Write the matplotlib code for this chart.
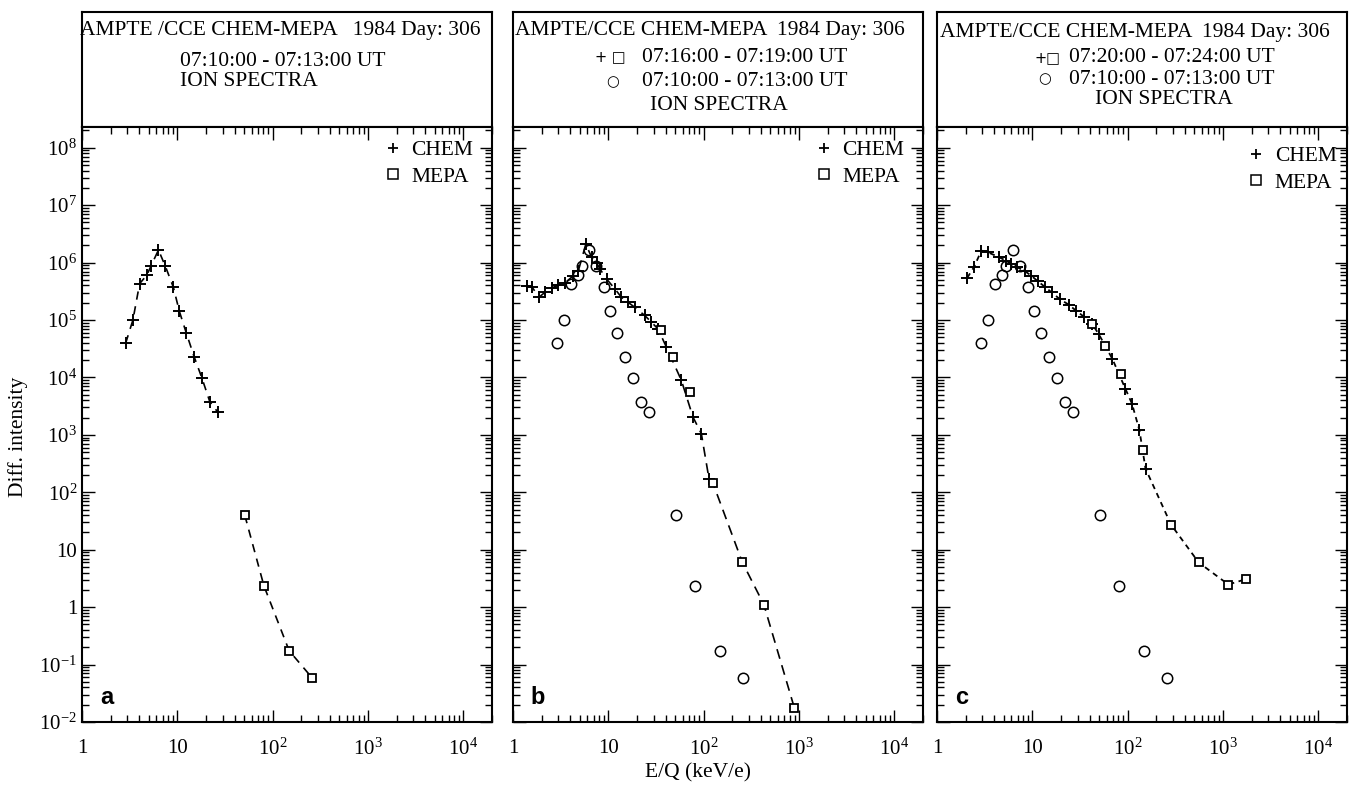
import numpy as np
import matplotlib
matplotlib.use("Agg")
import matplotlib.pyplot as plt
from matplotlib.ticker import LogLocator, FixedLocator, FixedFormatter, NullFormatter
from matplotlib.lines import Line2D

plt.rcParams['font.family'] = ['Liberation Serif', 'DejaVu Sans']
plt.rcParams['mathtext.fontset'] = 'custom'
plt.rcParams['mathtext.rm'] = 'Liberation Serif'
plt.rcParams['mathtext.it'] = 'Liberation Serif:italic'
plt.rcParams['mathtext.bf'] = 'Liberation Serif:bold'

# --- Data (E/Q in keV/e, differential intensity) ---
# panel a, 07:10:00 - 07:13:00 UT (also the circles in b and c)
a_chem_e = [2.87, 3.42, 4.02, 4.8, 5.27, 6.34, 7.5, 9.1, 10.5, 12.4, 15.0, 18.1, 21.9, 26.5]
a_chem_j = [3.95e4, 1.0e5, 4.3e5, 6.1e5, 8.6e5, 1.66e6, 8.6e5, 3.7e5, 1.42e5, 6.0e4,
            2.3e4, 9.8e3, 3.8e3, 2.5e3]
a_mepa_e = [51, 81, 149, 261]
a_mepa_j = [40, 2.35, 0.174, 0.058]

# panel b, 07:16:00 - 07:19:00 UT
b_chem_e = [1.39, 1.59, 1.88, 2.16, 2.54, 2.98, 3.5, 4.28, 4.83, 5.81, 6.67, 7.52, 8.15,
            9.57, 11.7, 13.7, 16.1, 18.9, 24.1, 28.3, 33.2, 40.6, 58.4, 77.3, 94.6, 113.7]
b_chem_j = [3.98e5, 3.7e5, 2.5e5, 3.04e5, 3.63e5, 4.0e5, 4.4e5, 5.9e5, 7.1e5, 2.1e6,
            1.24e6, 1.0e6, 7.8e5, 5.2e5, 3.5e5, 2.5e5, 2.04e5, 1.67e5, 1.2e5, 9.2e4,
            7.0e4, 3.4e4, 8.9e3, 2.04e3, 1.05e3, 173]
b_mepa_e = [35.4, 47.7, 71.3, 125, 254, 428, 897]
b_mepa_j = [6.6e4, 2.25e4, 5.5e3, 145, 6.1, 1.11, 0.0173]

# panel c, 07:20:00 - 07:24:00 UT
c_chem_e = [2.07, 2.44, 2.92, 3.43, 4.49, 5.29, 5.98, 6.92, 8.28, 9.75, 11.5, 13.5, 15.9,
            19.5, 24.0, 28.7, 34.6, 42.4, 50.0, 69.2, 94.5, 111, 133, 154]
c_chem_j = [5.4e5, 8.3e5, 1.62e6, 1.51e6, 1.24e6, 1.08e6, 9.5e5, 8.3e5, 7.2e5, 5.9e5,
            4.7e5, 3.8e5, 3.04e5, 2.3e5, 1.86e5, 1.46e5, 1.15e5, 8.6e4, 5.6e4, 2.1e4,
            6.4e3, 3.5e3, 1.2e3, 258]
c_mepa_e = [42.4, 58, 85, 145, 285, 556, 1138, 1740]
c_mepa_j = [8.6e4, 3.5e4, 1.13e4, 540, 27.4, 6.0, 2.48, 3.07]

x_ticks = [1, 10, 100, 1000, 10000]
x_labels = ['1', '10', '$10^2$', '$10^3$', '$10^4$']
y_ticks = [1e-2, 1e-1, 1, 10, 1e2, 1e3, 1e4, 1e5, 1e6, 1e7, 1e8]
y_labels = ['$10^{-2}$', '$10^{-1}$', '1', '10', '$10^2$', '$10^3$', '$10^4$',
            '$10^5$', '$10^6$', '$10^7$', '$10^8$']

ref_e = a_chem_e + a_mepa_e
ref_j = a_chem_j + a_mepa_j

# --- Layout (pixel geometry of the original) ---
W, H = 1351, 785
fig = plt.figure(figsize=(W / 100, H / 100), dpi=100)

def rect(l, r, top, bot):
    return [l / W, 1 - bot / H, (r - l) / W, (bot - top) / H]

def fpos(px, py):
    return px / W, 1 - py / H

panel_x = [(82, 492), (513, 923), (937, 1347)]
ax_top, ax_bot, hdr_top = 127, 722, 12

axes = []
for i, (l, r) in enumerate(panel_x):
    hdr = fig.add_axes(rect(l, r, hdr_top, ax_top))
    hdr.set_xticks([])
    hdr.set_yticks([])
    for s in hdr.spines.values():
        s.set_linewidth(1.5)

    ax = fig.add_axes(rect(l, r, ax_top, ax_bot))
    ax.set_xscale('log')
    ax.set_yscale('log')
    ax.set_xlim(1, 2e4)
    ax.set_ylim(1e-2, 2.3e8)
    ax.xaxis.set_major_locator(FixedLocator(x_ticks))
    ax.xaxis.set_major_formatter(FixedFormatter(x_labels))
    ax.yaxis.set_major_locator(FixedLocator(y_ticks))
    if i == 0:
        ax.yaxis.set_major_formatter(FixedFormatter(y_labels))
    else:
        ax.yaxis.set_major_formatter(NullFormatter())
    ax.xaxis.set_minor_locator(LogLocator(base=10, subs=range(2, 10), numticks=20))
    ax.yaxis.set_minor_locator(LogLocator(base=10, subs=range(2, 10), numticks=20))
    ax.xaxis.set_minor_formatter(NullFormatter())
    ax.yaxis.set_minor_formatter(NullFormatter())
    ax.tick_params(which='both', direction='in', top=True, right=True, width=1.0,
                   labelsize=15)
    ax.tick_params(which='major', length=9)
    ax.tick_params(which='minor', length=5)
    ax.tick_params(axis='x', pad=12)
    for s in ax.spines.values():
        s.set_linewidth(1.5)
    axes.append(ax)

ax_a, ax_b, ax_c = axes

plus_kw = dict(marker='+', ls='none', color='k', ms=9, mew=1.4)
sq_kw = dict(marker='s', ls='none', mfc='white', mec='k', ms=6, mew=1.3)
circ_kw = dict(marker='o', ls='none', mfc='none', mec='k', ms=7.5, mew=1.1)

# panel a
ax_a.plot(a_chem_e, a_chem_j, color='k', lw=1.2, ls=(0, (5, 4)))
ax_a.plot(a_mepa_e, a_mepa_j, color='k', lw=1.2, ls=(0, (5, 4)))
ax_a.plot(a_chem_e, a_chem_j, **plus_kw)
ax_a.plot(a_mepa_e, a_mepa_j, **sq_kw)

# panel b
b_line_e = b_chem_e + [e for e in b_mepa_e if e > max(b_chem_e)]
b_line_j = b_chem_j + [j for e, j in zip(b_mepa_e, b_mepa_j) if e > max(b_chem_e)]
ax_b.plot(ref_e, ref_j, **circ_kw)
ax_b.plot(b_line_e, b_line_j, color='k', lw=1.2, ls=(0, (6, 4)))
ax_b.plot(b_chem_e, b_chem_j, **plus_kw)
ax_b.plot(b_mepa_e, b_mepa_j, **sq_kw)

# panel c
c_line_e = c_chem_e + [e for e in c_mepa_e if e > max(c_chem_e)]
c_line_j = c_chem_j + [j for e, j in zip(c_mepa_e, c_mepa_j) if e > max(c_chem_e)]
ax_c.plot(ref_e, ref_j, **circ_kw)
ax_c.plot(c_line_e, c_line_j, color='k', lw=1.3, ls=(0, (3, 2.5)))
ax_c.plot(c_chem_e, c_chem_j, **plus_kw)
ax_c.plot(c_mepa_e, c_mepa_j, **sq_kw)

# legends
handles = [Line2D([], [], marker='+', ls='none', color='k', ms=7, mew=1.3),
           Line2D([], [], marker='s', ls='none', mfc='none', mec='k', ms=7, mew=1.1)]
leg_pos = [(0.965, 0.985), (0.965, 0.985), (0.985, 0.975)]
for ax, pos in zip(axes, leg_pos):
    ax.legend(handles, ['CHEM', 'MEPA'], loc='upper right', bbox_to_anchor=pos,
              frameon=False, fontsize=15.5, handlelength=0.7, handletextpad=0.5,
              labelspacing=0.3, borderpad=0.2, borderaxespad=0.0)

# panel letters
for ax, letter in zip(axes, ['a', 'b', 'c']):
    ax.text(0.06, 0.042, letter, transform=ax.transAxes, fontsize=17,
            fontweight='bold', family='Liberation Sans', ha='center', va='center')

# header texts
hs = 15.5
fig.text(*fpos(80, 31), 'AMPTE /CCE CHEM-MEPA   1984 Day: 306', fontsize=hs, va='center')
fig.text(*fpos(180, 62), '07:10:00 - 07:13:00 UT', fontsize=hs, va='center')
fig.text(*fpos(180, 82), 'ION SPECTRA', fontsize=hs, va='center')

fig.text(*fpos(515, 30), 'AMPTE/CCE CHEM-MEPA  1984 Day: 306', fontsize=hs, va='center')
fig.text(*fpos(610, 57), '+ \u25a1', fontsize=10.5, va='center', ha='center',
         family=['DejaVu Sans'])
fig.text(*fpos(642, 57), '07:16:00 - 07:19:00 UT', fontsize=hs, va='center')
fig.text(*fpos(613, 82), '\u25cb', fontsize=10.5, va='center', ha='center',
         family=['DejaVu Sans'])
fig.text(*fpos(642, 82), '07:10:00 - 07:13:00 UT', fontsize=hs, va='center')
fig.text(*fpos(650, 105), 'ION SPECTRA', fontsize=hs, va='center')

fig.text(*fpos(940, 32), 'AMPTE/CCE CHEM-MEPA  1984 Day: 306', fontsize=hs, va='center')
fig.text(*fpos(1047, 58), '+\u25a1', fontsize=10.5, va='center', ha='center',
         family=['DejaVu Sans'])
fig.text(*fpos(1069, 58), '07:20:00 - 07:24:00 UT', fontsize=hs, va='center')
fig.text(*fpos(1045, 79), '\u25cb', fontsize=10.5, va='center', ha='center',
         family=['DejaVu Sans'])
fig.text(*fpos(1069, 79), '07:10:00 - 07:13:00 UT', fontsize=hs, va='center')
fig.text(*fpos(1095, 100), 'ION SPECTRA', fontsize=hs, va='center')

# axis labels
fig.text(*fpos(18, 437), 'Diff. intensity', fontsize=15.5, rotation=90,
         ha='center', va='center')
fig.text(*fpos(698, 773), 'E/Q (keV/e)', fontsize=15.5, ha='center', va='center')

fig.savefig('out.png', dpi=100)
